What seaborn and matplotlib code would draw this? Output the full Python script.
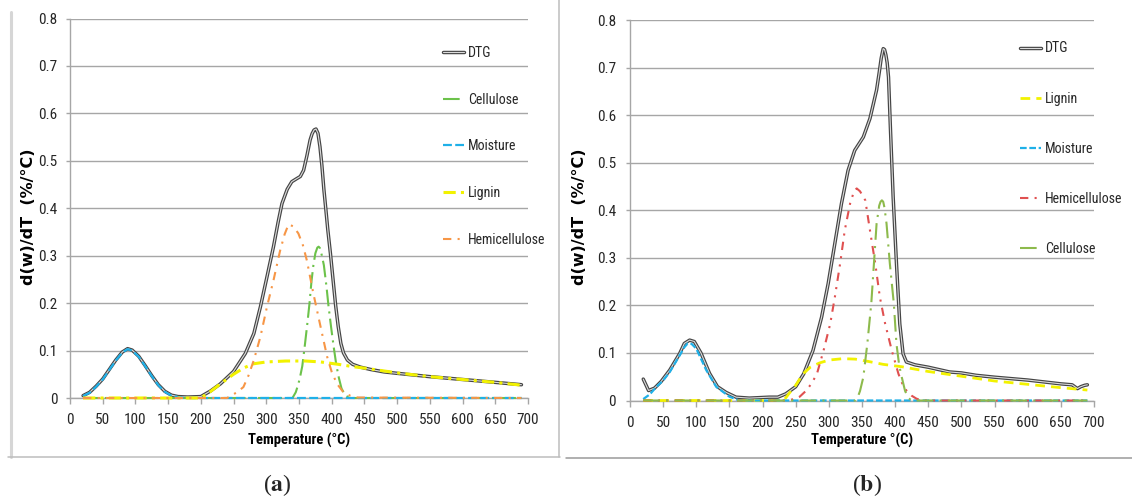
import matplotlib
matplotlib.use("Agg")
import matplotlib.pyplot as plt
import matplotlib.patheffects as pe
from matplotlib.lines import Line2D
from matplotlib import font_manager
import seaborn as sns

# === panel (a) data ===
temp_dtg_a = [20, 30, 40, 50, 60, 70, 80, 88, 95, 105, 115, 125, 135, 145, 155, 165, 180, 200, 215, 230,
              250, 268, 281, 291, 301, 311, 318, 324, 332, 339, 346, 352, 357, 362, 367, 370, 373, 376, 379, 382,
              385, 388, 391, 394, 398, 402, 406, 410, 414, 418, 424, 432, 444, 460, 480, 500, 550, 600, 650, 690]
dtg_a = [0.005, 0.012, 0.025, 0.040, 0.060, 0.080, 0.097, 0.104, 0.101, 0.088, 0.068, 0.047, 0.028, 0.014, 0.006, 0.003, 0.002, 0.003, 0.015, 0.030,
         0.056, 0.094, 0.136, 0.192, 0.255, 0.319, 0.370, 0.410, 0.440, 0.456, 0.462, 0.467, 0.480, 0.510, 0.544, 0.557, 0.565, 0.567, 0.558, 0.530,
         0.490, 0.440, 0.398, 0.355, 0.305, 0.250, 0.195, 0.150, 0.115, 0.095, 0.080, 0.071, 0.065, 0.060, 0.055, 0.052, 0.045, 0.039, 0.033, 0.028]

temp_cel_a = [20, 340, 345, 348, 351, 355, 359, 363, 366, 369, 372, 375, 378, 380, 382, 385, 388, 392, 395, 399, 403, 407, 411, 415, 421, 428, 690]
cel_a = [0, 0, 0.012, 0.025, 0.040, 0.067, 0.112, 0.160, 0.199, 0.245, 0.280, 0.305, 0.317, 0.319, 0.316, 0.300, 0.280, 0.235, 0.195, 0.150, 0.108, 0.070, 0.042, 0.020, 0.005, 0, 0]

temp_moi_a = [20, 30, 40, 50, 60, 70, 80, 88, 95, 105, 115, 125, 135, 145, 155, 165, 175, 690]
moi_a = [0.004, 0.011, 0.024, 0.039, 0.059, 0.079, 0.096, 0.103, 0.100, 0.087, 0.067, 0.046, 0.027, 0.013, 0.005, 0.002, 0, 0]

temp_lig_a = [20, 200, 215, 230, 250, 265, 280, 300, 330, 360, 383, 410, 433, 450, 480, 500, 550, 600, 650, 690]
lig_a = [0, 0, 0.014, 0.030, 0.050, 0.063, 0.072, 0.076, 0.078, 0.078, 0.076, 0.071, 0.066, 0.063, 0.057, 0.053, 0.045, 0.039, 0.033, 0.027]

temp_hem_a = [20, 240, 245, 255, 265, 273, 281, 291, 301, 311, 321, 328, 334, 341, 349, 356, 362, 372, 383, 393, 400, 408, 418, 428, 440, 690]
hem_a = [0, 0, 0.004, 0.012, 0.023, 0.048, 0.080, 0.129, 0.192, 0.248, 0.310, 0.345, 0.366, 0.362, 0.347, 0.322, 0.290, 0.220, 0.150, 0.087, 0.055, 0.030, 0.012, 0.005, 0.001, 0]

# === panel (b) data ===
temp_dtg_b = [20, 28, 37, 47, 60, 75, 82, 90, 97, 107, 120, 132, 145, 160, 180, 210, 223, 235, 250, 262,
              276, 289, 299, 309, 319, 329, 339, 352, 362, 372, 376, 379, 382, 384, 386, 388, 390, 393, 397, 402,
              407, 412, 417, 430, 450, 482, 500, 522, 550, 600, 650, 667, 675, 680, 686, 690]
dtg_b = [0.045, 0.021, 0.026, 0.040, 0.064, 0.099, 0.120, 0.127, 0.124, 0.100, 0.057, 0.029, 0.017, 0.007, 0.005, 0.007, 0.007, 0.014, 0.029, 0.056,
         0.105, 0.175, 0.246, 0.330, 0.414, 0.484, 0.526, 0.554, 0.593, 0.653, 0.690, 0.720, 0.740, 0.738, 0.727, 0.710, 0.680, 0.568, 0.428, 0.288,
         0.161, 0.098, 0.081, 0.075, 0.070, 0.060, 0.058, 0.053, 0.049, 0.043, 0.035, 0.033, 0.025, 0.029, 0.032, 0.033]

temp_lig_b = [20, 232, 240, 250, 261, 272, 286, 300, 321, 340, 360, 382, 410, 450, 500, 550, 600, 650, 690]
lig_b = [0, 0, 0.015, 0.032, 0.056, 0.070, 0.079, 0.085, 0.088, 0.087, 0.082, 0.076, 0.071, 0.061, 0.051, 0.041, 0.034, 0.027, 0.022]

temp_moi_b = [20, 30, 40, 50, 60, 75, 82, 87, 93, 100, 115, 130, 150, 165, 690]
moi_b = [0.003, 0.013, 0.029, 0.042, 0.060, 0.095, 0.112, 0.120, 0.119, 0.109, 0.064, 0.029, 0.008, 0, 0]

temp_hem_b = [20, 240, 246, 256, 266, 274, 282, 292, 302, 309, 317, 324, 332, 338, 342, 347, 355, 362, 370, 377,
              385, 395, 405, 411, 417, 425, 432, 440, 690]
hem_b = [0, 0, 0.003, 0.008, 0.021, 0.036, 0.056, 0.105, 0.161, 0.217, 0.288, 0.358, 0.414, 0.440, 0.446, 0.440, 0.421, 0.358, 0.288, 0.217,
         0.161, 0.105, 0.056, 0.035, 0.021, 0.010, 0.004, 0, 0]

temp_cel_b = [20, 340, 343, 347, 352, 358, 364, 368, 372, 376, 378, 380, 382, 384, 387, 392, 398, 402, 406, 410, 415, 420, 425, 690]
cel_b = [0, 0, 0.005, 0.020, 0.049, 0.119, 0.204, 0.288, 0.372, 0.410, 0.418, 0.421, 0.418, 0.405, 0.372, 0.288, 0.204, 0.119, 0.075, 0.049, 0.020, 0.005, 0, 0]

x_ticks = list(range(0, 701, 50))
y_ticks = [0, 0.1, 0.2, 0.3, 0.4, 0.5, 0.6, 0.7, 0.8]
y_tick_labels = ["0", "0.1", "0.2", "0.3", "0.4", "0.5", "0.6", "0.7", "0.8"]
y_label = "d(w)/dT  (%/°C)"

# === style: the original uses a narrow (Calibri-like) face ===
sns.set_style("white")
entries = font_manager.fontManager.ttflist
names = {f.name for f in entries}
stretch = "normal"
narrow = None
for cand in ["Liberation Sans Narrow", "Roboto Condensed", "Open Sans Condensed", "Noto Sans Condensed"]:
    if cand in names:
        narrow = cand
        break
if narrow is None and any(f.name == "DejaVu Sans" and f.stretch == "condensed" for f in entries):
    narrow, stretch = "DejaVu Sans", "condensed"
if narrow is None:
    narrow = "Liberation Sans"
    sizes = {"tick": 9.5, "legend": 9.8, "xlabel": 9.8}
elif narrow == "DejaVu Sans":
    sizes = {"tick": 9.5, "legend": 9.5, "xlabel": 9.5}
else:
    sizes = {"tick": 11, "legend": 10, "xlabel": 10.5}
plt.rcParams["font.family"] = [narrow, "DejaVu Sans"]
plt.rcParams["font.stretch"] = stretch
plt.rcParams["mathtext.fontset"] = "stix"

GRID = "#a6a6a6"
TXT = "#262626"
W, H = 1132, 497

fig = plt.figure(figsize=(W / 100, H / 100), dpi=100)
ax_a = fig.add_axes([70 / W, 1 - 398 / H, 458 / W, 379.5 / H])
ax_b = fig.add_axes([630 / W, 1 - 400.5 / H, 464 / W, 380.4 / H])


def draw_panel(ax, curves, xlabel, xlab_y, ylab_x, ylab_y, ytick_pad, leg_anchor, leg_spacing):
    for name, temps, vals, color, lw, ls in curves:
        sns.lineplot(x=temps, y=vals, ax=ax, color=color, linewidth=lw, linestyle=ls,
                     label=name, errorbar=None)
        line = ax.lines[-1]
        line.set_clip_on(False)
        line.set_solid_joinstyle("round")
        if name == "DTG":
            line.set_path_effects([pe.Stroke(linewidth=2.5, foreground="#454545"), pe.Normal()])

    ax.set_xlim(0, 700)
    ax.set_ylim(0, 0.8)
    ax.set_xticks(x_ticks)
    ax.set_yticks(y_ticks)
    ax.set_yticklabels(y_tick_labels)
    ax.yaxis.grid(True, color=GRID, lw=1.0)
    ax.xaxis.grid(False)
    ax.set_axisbelow(True)
    for s in ["top", "right"]:
        ax.spines[s].set_visible(False)
    for s in ["left", "bottom"]:
        ax.spines[s].set_color(GRID)
        ax.spines[s].set_linewidth(1.0)
        ax.spines[s].set_zorder(1)
    ax.tick_params(axis="x", bottom=True, direction="out", length=4, width=1, color=GRID,
                   pad=7, labelsize=sizes["tick"], labelcolor=TXT)
    ax.tick_params(axis="y", left=True, direction="out", length=3, width=1, color=GRID,
                   pad=ytick_pad, labelsize=sizes["tick"], labelcolor=TXT)

    ax.set_xlabel(xlabel, fontsize=sizes["xlabel"], fontweight="bold", color="black")
    ax.xaxis.set_label_coords(0.5, xlab_y)
    ax.set_ylabel(y_label, fontsize=11.5, fontweight="bold", family="DejaVu Sans",
                  fontstretch="normal", color="black")
    ax.yaxis.set_label_coords(ylab_x, ylab_y)

    leg = ax.legend(loc="upper left", bbox_to_anchor=leg_anchor, bbox_transform=fig.transFigure,
                    frameon=False, fontsize=sizes["legend"], labelspacing=leg_spacing, handlelength=1.5,
                    handletextpad=0.3, borderpad=0, borderaxespad=0)
    for t in leg.get_texts():
        t.set_color(TXT)


# === (a) ===
curves_a = [
    ("DTG", temp_dtg_a, dtg_a, "#dcdcdc", 0.8, "-"),
    ("Cellulose", temp_cel_a, cel_a, "#6cc24a", 1.5, (0, (8, 2.5, 1, 2.5))),
    ("Moisture", temp_moi_a, moi_a, "#1fb0e8", 1.6, (0, (4, 1.5))),
    ("Lignin", temp_lig_a, lig_a, "#f2f200", 2.2, (0, (4, 1.7, 1, 1.7))),
    ("Hemicellulose", temp_hem_a, hem_a, "#f79646", 1.5, (0, (4, 3, 1, 3))),
]
draw_panel(ax_a, curves_a, "Temperature (°C)", -0.092, -0.075, 0.477, 6,
           (443 / W, 1 - 46 / H), 2.35)

# === (b) ===
curves_b = [
    ("DTG", temp_dtg_b, dtg_b, "#dcdcdc", 0.8, "-"),
    ("Lignin", temp_lig_b, lig_b, "#f2f200", 2.0, (0, (3.5, 2.2))),
    ("Moisture", temp_moi_b, moi_b, "#1fb0e8", 1.6, (0, (3, 1.2))),
    ("Hemicellulose", temp_hem_b, hem_b, "#e05050", 1.5, (0, (4, 3, 1, 3, 1, 3))),
    ("Cellulose", temp_cel_b, cel_b, "#8dba4c", 1.5, (0, (8, 3, 1, 3))),
]
draw_panel(ax_b, curves_b, "Temperature °(C)", -0.085, -0.093, 0.482, 7,
           (1020 / W, 1 - 41.5 / H), 2.6)

# === panel frames and captions ===
fig.add_artist(Line2D([11 / W, 11 / W], [1 - 12 / H, 1 - 457 / H], color="#d6d6d6", lw=2.2))
fig.add_artist(Line2D([8 / W, 560 / W], [1 - 457 / H, 1 - 457 / H], color="#bdbdbd", lw=1.1))
fig.add_artist(Line2D([558.5 / W, 558.5 / W], [1, 1 - 457 / H], color="#bdbdbd", lw=1.1))
fig.add_artist(Line2D([566 / W, 1], [1 - 457.5 / H, 1 - 457.5 / H], color="#9a9a9a", lw=1.1))

fig.text(277 / W, 1 - 485 / H, r"($\mathbf{a}$)", ha="center", va="center",
         family="Liberation Serif", fontsize=17)
fig.text(867 / W, 1 - 485 / H, r"($\mathbf{b}$)", ha="center", va="center",
         family="Liberation Serif", fontsize=17)

fig.savefig("out.png", dpi=100)
